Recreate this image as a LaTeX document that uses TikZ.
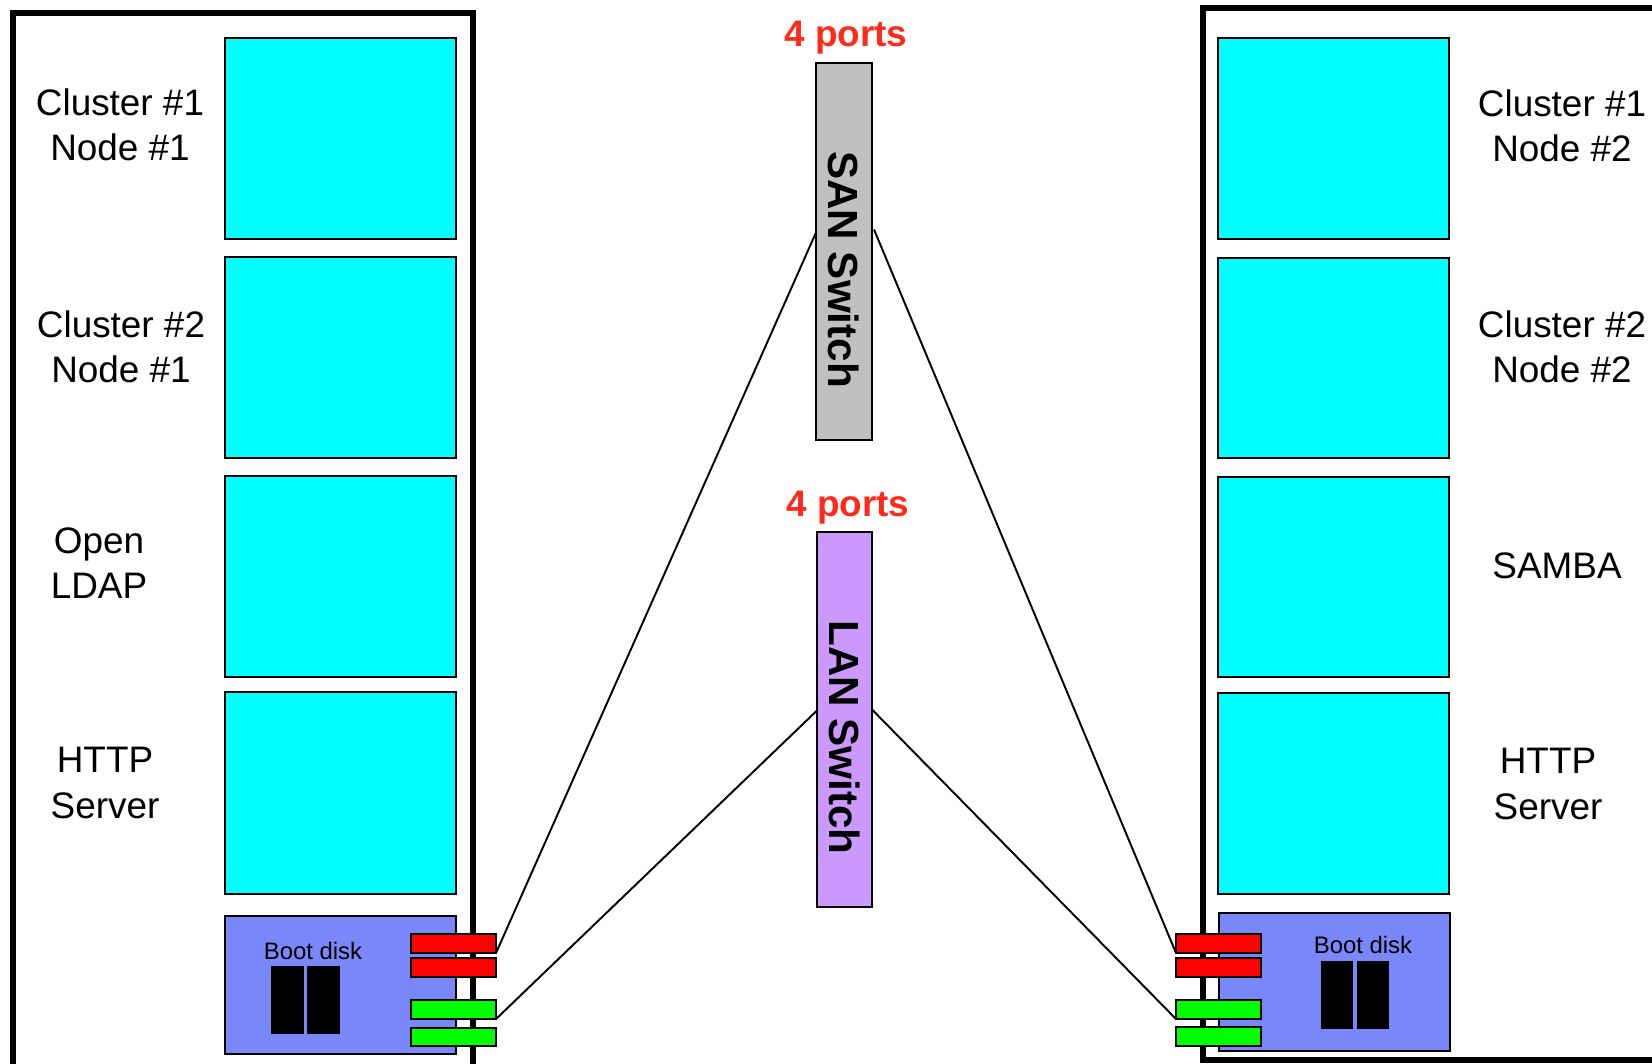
\documentclass[tikz,border=0pt]{standalone}
\usepackage{fontspec}
\setmainfont{Liberation Sans}
\usetikzlibrary{calc}
\definecolor{vmcyan}{HTML}{00FFFF}
\definecolor{bootblue}{HTML}{7A87F8}
\definecolor{sangray}{HTML}{C0C0C0}
\definecolor{lanpurple}{HTML}{CC99FF}
\definecolor{portred}{HTML}{FF0000}
\definecolor{portgreen}{HTML}{00FF00}
\definecolor{labelred}{HTML}{FF2A1A}
\tikzset{
  sz/.style 2 args={minimum width=#1*0.02cm, minimum height=#2*0.02cm, inner sep=0pt, outer sep=0pt},
  vm/.style={draw, line width=1.6pt, fill=vmcyan, anchor=north west},
  bootbox/.style={draw, line width=1.6pt, fill=bootblue, anchor=north west},
  disk/.style={fill=black, draw=black, anchor=north west},
  redport/.style={draw, line width=1.6pt, fill=portred, anchor=north west},
  greenport/.style={draw, line width=1.6pt, fill=portgreen, anchor=north west},
  switchbox/.style={draw, line width=1.2pt, anchor=north west},
  chassis/.style={line width=3.2pt},
  lbl/.style={align=center, font=\fontsize{21}{25.8}\selectfont},
  bootlbl/.style={font=\fontsize{13.6}{15}\selectfont},
  portslbl/.style={text=labelred, font=\fontsize{21}{25}\selectfont\bfseries},
  switchlbl/.style={rotate=-90, font=\fontsize{24}{28}\selectfont\bfseries},
  link/.style={line width=1.1pt}
}
\begin{document}
\begin{tikzpicture}[x=0.02cm,y=-0.02cm]
\useasboundingbox (0,0) rectangle (1652,1063);
\clip (0,0) rectangle (1652,1063);
\fill[white] (0,0) rectangle (1652,1063);

% chassis
\draw[chassis] (13,1080) -- (13,13) -- (473,13) -- (473,1080);
\draw[chassis] (1720,8) -- (1203,8) -- (1203,1060) -- (1720,1060);

% left VMs
\node[vm, sz={231}{201}] (l1) at (225,38) {};
\node[vm, sz={231}{201}] (l2) at (225,257) {};
\node[vm, sz={231}{201}] (l3) at (225,476) {};
\node[vm, sz={231}{202}] (l4) at (225,692) {};
\node[bootbox, sz={231}{138}] (lboot) at (225,916) {};
\node[bootlbl] (lboottxt) at (313,951) {Boot disk};
\node[disk, sz={32}{67}] (ld1) at (271,966) {};
\node[disk, sz={32}{67}] (ld2) at (307,966) {};

% left labels
\node[lbl] (t1) at (120,125) {Cluster \#1\\Node \#1};
\node[lbl] (t2) at (121,347) {Cluster \#2\\Node \#1};
\node[lbl] (t3) at (99,563) {Open\\LDAP};
\node[lbl] (t4) at (105,783) {HTTP\\Server};

% right VMs
\node[vm, sz={231}{201}] (r1) at (1218,38) {};
\node[vm, sz={231}{200}] (r2) at (1218,258) {};
\node[vm, sz={231}{200}] (r3) at (1218,477) {};
\node[vm, sz={231}{201}] (r4) at (1218,693) {};
\node[bootbox, sz={231}{138}] (rboot) at (1219,913) {};
\node[bootlbl] (rboottxt) at (1363,945) {Boot disk};
\node[disk, sz={31}{67}] (rd1) at (1321,961) {};
\node[disk, sz={31}{67}] (rd2) at (1357,961) {};

% right labels
\node[lbl] (u1) at (1562,126) {Cluster \#1\\Node \#2};
\node[lbl] (u2) at (1562,347) {Cluster \#2\\Node \#2};
\node[lbl] (u3) at (1557,566) {SAMBA};
\node[lbl] (u4) at (1548,784) {HTTP\\Server};

% left ports
\node[redport, sz={85}{19}] (lp1) at (411,934) {};
\node[redport, sz={85}{19}] (lp2) at (411,958) {};
\node[greenport, sz={85}{19}] (lp3) at (411,1000) {};
\node[greenport, sz={85}{18}] (lp4) at (411,1028) {};

% right ports
\node[redport, sz={85}{19}] (rp1) at (1176,934) {};
\node[redport, sz={85}{19}] (rp2) at (1176,958) {};
\node[greenport, sz={85}{19}] (rp3) at (1176,1000) {};
\node[greenport, sz={85}{19}] (rp4) at (1176,1027) {};

% switches
\node[switchbox, fill=sangray, sz={56}{377}] (san) at (816,63) {};
\node[switchlbl] (santxt) at ($(san.center)+(0,18)$) {SAN Switch};
\node[portslbl] (sanports) at (846,38) {4 ports};
\node[switchbox, fill=lanpurple, sz={55}{375}] (lan) at (817,532) {};
\node[switchlbl] (lantxt) at ($(lan.center)+(0,18)$) {LAN Switch};
\node[portslbl] (lanports) at (848,508) {4 ports};

% links
\draw[link] (lp1.south east) -- ($(san.west)+(0,-19)$);
\draw[link] ($(san.east)+(2,-22)$) -- (rp1.south west);
\draw[link] (lp3.south east) -- ($(lan.west)+(0,-9)$);
\draw[link] ($(lan.east)+(0,-10)$) -- (rp3.south west);
\end{tikzpicture}
\end{document}
